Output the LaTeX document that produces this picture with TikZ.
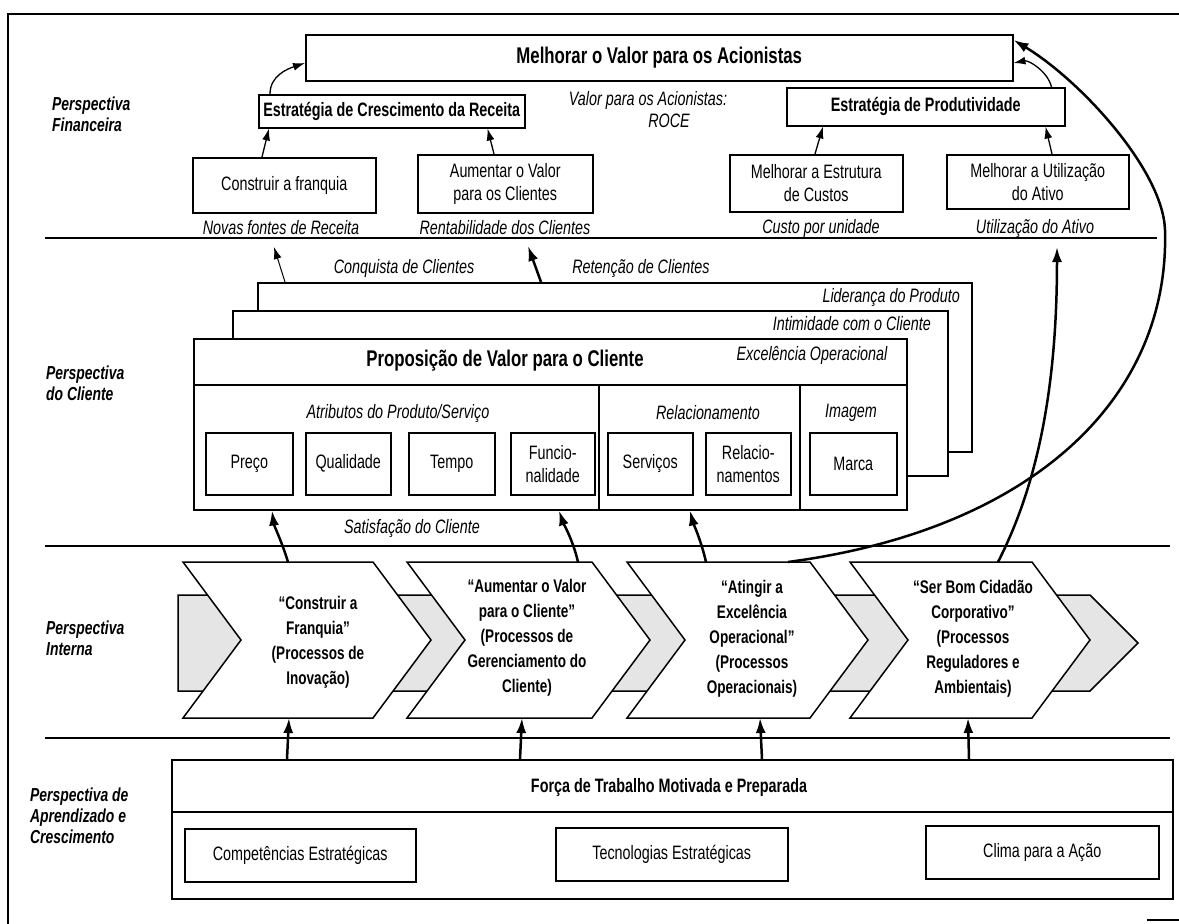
\documentclass[tikz,border=0pt]{standalone}
\usepackage{fontspec}
\setmainfont{Liberation Sans}[FakeStretch=0.74]
\usetikzlibrary{arrows.meta}
\newcommand\fReg{\fontsize{19.4}{23}\selectfont}
\newcommand\fTitle{\fontsize{22.7}{25}\selectfont}
\newcommand\fChev{\fontsize{18.3}{25}\selectfont}
\newcommand\fPersp{\fontsize{18.8}{21}\selectfont}
\begin{document}
\begin{tikzpicture}[x=1pt,y=-1pt,
  box/.style={draw, line width=1.5pt, fill=white, inner sep=0pt, align=center, font=\fReg, anchor=north west},
  bbox/.style={box, font=\bfseries\fReg},
  plain/.style={draw, line width=1.5pt, fill=white, inner sep=0pt, anchor=north west},
  lab/.style={inner sep=0pt, font=\itshape\fReg},
  persp/.style={inner sep=0pt, anchor=west, align=left, font=\bfseries\itshape\fPersp},
  sepline/.style={line width=1.8pt},
  chev/.style={draw, line width=1.5pt, fill=white, line join=miter},
  chevtxt/.style={inner sep=0pt, align=center, font=\bfseries\fChev},
  arrfin/.style={line width=1.3pt, -{Latex[length=12pt,width=8pt]}},
  arrthin/.style={line width=1pt, -{Latex[length=12pt,width=8pt]}},
  arrthick/.style={line width=2.5pt, -{Latex[length=15pt,width=10pt]}},
]
\useasboundingbox (0,0) rectangle (1179,924);
\fill[white] (0,0) rectangle (1179,924);

% frame
\draw[line width=2.2pt] (8,924) -- (8,14) -- (1179,14);
\draw[line width=1.6pt] (1147,920) -- (1179,920);

% separators
\draw[sepline] (45,238) -- (1157,238);
\draw[sepline] (45,546) -- (1170,546);
\draw[sepline] (45,738) -- (1170,738);

% perspective labels
\node[persp] (pf) at (52,114) {Perspectiva\\Financeira};
\node[persp] (pc) at (46,383) {Perspectiva\\do Cliente};
\node[persp] (pi) at (46,638) {Perspectiva\\Interna};
\node[persp] (pa) at (30,816) {Perspectiva de\\Aprendizado e\\Crescimento};

% ---------------- Financial
\node[bbox, font=\bfseries\fTitle, minimum width=707pt, minimum height=46pt] (top) at (305,34) {Melhorar o Valor para os Acionistas};
\node[bbox, minimum width=266pt, minimum height=33pt] (ecr) at (258,94) {Estratégia de Crescimento da Receita};
\node[bbox, minimum width=278pt, minimum height=38pt] (epr) at (786,87) {Estratégia de Produtividade};
\node[lab] (vpa) at (648,100) {Valor para os Acionistas:};
\node[lab] (roce) at (669,121) {ROCE};

\node[box, minimum width=183pt, minimum height=55pt] (cf) at (192,157) {Construir a franquia};
\node[box, minimum width=175pt, minimum height=58pt] (av) at (417,154) {Aumentar o Valor\\para os Clientes};
\node[box, minimum width=173pt, minimum height=57pt] (me) at (729,154) {Melhorar a Estrutura\\de Custos};
\node[box, minimum width=182pt, minimum height=54pt] (mu) at (946,154) {Melhorar a Utilização\\do Ativo};

\node[lab] (l1) at (281,228) {Novas fontes de Receita};
\node[lab] (l2) at (505,228) {Rentabilidade dos Clientes};
\node[lab] (l3) at (821,228) {Custo por unidade};
\node[lab] (l4) at (1035,228) {Utilização do Ativo};

\draw[arrfin] ([xshift=70pt]cf.north west) -- ([xshift=11pt]ecr.south west);
\draw[arrfin] ([xshift=77pt]av.north west) -- ([xshift=-38pt]ecr.south east);
\draw[arrfin] ([xshift=12pt]ecr.north west) .. controls +(0,-18) and +(-18,6) .. ([yshift=-29pt]top.north west);
\draw[arrfin] ([xshift=86pt]me.north west) -- ([xshift=37pt]epr.south west);
\draw[arrfin] ([xshift=106pt]mu.north west) -- ([xshift=-20pt]epr.south east);
\draw[arrfin] ([xshift=-14pt]epr.north east) .. controls +(-4,-16) and +(15,-3) .. ([yshift=-29pt]top.north east);

% ---------------- Customer
\node[lab] (conq) at (404,268) {Conquista de Clientes};
\node[lab] (ret) at (641,268) {Retenção de Clientes};
\node[plain, minimum width=714pt, minimum height=169pt] (back) at (257,282) {};
\node[lab, anchor=east] (lid) at (960,297) {Liderança do Produto};
\node[plain, minimum width=715pt, minimum height=165pt] (mid) at (232,310) {};
\node[lab, anchor=east] (intim) at (931,324) {Intimidade com o Cliente};
\node[plain, minimum width=713pt, minimum height=171pt] (front) at (193,338) {};
\draw[line width=1.5pt] (193,385) -- (906,385);
\draw[line width=1.5pt] (599,385) -- (599,509);
\draw[line width=1.5pt] (800,385) -- (800,509);
\node[inner sep=0pt, font=\bfseries\fTitle] (prop) at (505,361) {Proposição de Valor para o Cliente};
\node[lab] (exc) at (812,355) {Excelência Operacional};
\node[lab] (attr) at (398,413) {Atributos do Produto/Serviço};
\node[lab] (rel) at (708,413) {Relacionamento};
\node[lab] (img) at (851,413) {Imagem};

\node[box, minimum width=87pt, minimum height=62pt] (preco) at (205,432) {Preço};
\node[box, minimum width=85pt, minimum height=62pt] (qual) at (305,432) {Qualidade};
\node[box, minimum width=86pt, minimum height=62pt] (tempo) at (408,432) {Tempo};
\node[box, minimum width=84pt, minimum height=62pt] (func) at (510,432) {Funcio-\\nalidade};
\node[box, minimum width=85pt, minimum height=62pt] (serv) at (607,432) {Serviços};
\node[box, minimum width=85pt, minimum height=62pt] (relac) at (705,432) {Relacio-\\namentos};
\node[box, minimum width=87pt, minimum height=62pt] (marca) at (809,432) {Marca};

\node[lab] (sat) at (412,528) {Satisfação do Cliente};

\coordinate (conqend) at (274,247);
\coordinate (retend) at (528,246);
\draw[arrthin] ([xshift=28pt]back.north west) -- (conqend);
\draw[arrthick] ([xshift=284pt]back.north west) -- (retend);

% ---------------- Internal
\draw[line width=1.5pt, fill=gray!20] (178,595) -- (1090,595) -- (1138,643) -- (1090,691) -- (178,691) -- cycle;
\draw[chev] (183,562) -- (373,562) -- (431,640) -- (373,718) -- (183,718) -- (241,640) -- cycle;
\draw[chev] (407,562) -- (592,562) -- (650,640) -- (592,718) -- (407,718) -- (465,640) -- cycle;
\draw[chev] (627,562) -- (810,562) -- (868,640) -- (810,718) -- (627,718) -- (685,640) -- cycle;
\draw[chev] (850,562) -- (1032,562) -- (1090,640) -- (1032,718) -- (850,718) -- (908,640) -- cycle;

\node[chevtxt] (t1) at (318,642) {“Construir a\\Franquia”\\(Processos de\\Inovação)};
\node[chevtxt] (t2) at (527,638) {“Aumentar o Valor\\para o Cliente”\\(Processos de\\Gerenciamento do\\Cliente)};
\node[chevtxt] (t3) at (752,639) {“Atingir a\\Excelência\\Operacional”\\(Processos\\Operacionais)};
\node[chevtxt] (t4) at (973,639) {“Ser Bom Cidadão\\Corporativo”\\(Processos\\Reguladores e\\Ambientais)};

\coordinate (c1t) at (288,562);
\coordinate (c2t) at (578,562);
\coordinate (c3a) at (706,562);
\coordinate (c3b) at (788,562);
\coordinate (c4t) at (998,562);
\coordinate (c1b) at (289,718);
\coordinate (c2b) at (522,718);
\coordinate (c3c) at (760,718);
\coordinate (c4b) at (968,718);
\coordinate (utilend) at (1057,247);
\coordinate (bigmid) at (1165,230);

\draw[arrthick] (c1t) .. controls +(-6,-20) and +(2,15) .. ([xshift=79pt]front.south west);
\draw[arrthick] (c2t) .. controls +(-5,-22) and +(4,12) .. ([xshift=366pt]front.south west);
\draw[arrthick] (c3a) .. controls +(-5,-22) and +(3,12) .. ([xshift=497pt]front.south west);
\draw[arrthick] (c3b) .. controls (1030,530) and (1170,400) .. (bigmid) .. controls (1163,170) and (1080,80) .. ([yshift=-6pt]top.north east);
\draw[arrthick] (c4t) .. controls (1040,480) and (1057,380) .. (utilend);

% ---------------- Learning
\node[plain, minimum width=1001pt, minimum height=139pt] (learn) at (171,759) {};
\draw[line width=1.5pt] (171,812) -- (1172,812);
\node[inner sep=0pt, font=\bfseries\fReg] (forca) at (669,787) {Força de Trabalho Motivada e Preparada};
\node[box, minimum width=231pt, minimum height=53pt] (comp) at (184,828) {Competências Estratégicas};
\node[box, minimum width=232pt, minimum height=53pt] (tec) at (555,827) {Tecnologias Estratégicas};
\node[box, minimum width=233pt, minimum height=53pt] (clima) at (925,825) {Clima para a Ação};

\draw[arrthick] ([xshift=116pt]learn.north west) -- (c1b);
\draw[arrthick] ([xshift=349pt]learn.north west) -- (c2b);
\draw[arrthick] ([xshift=591pt]learn.north west) -- (c3c);
\draw[arrthick] ([xshift=798pt]learn.north west) -- (c4b);
\end{tikzpicture}
\end{document}
